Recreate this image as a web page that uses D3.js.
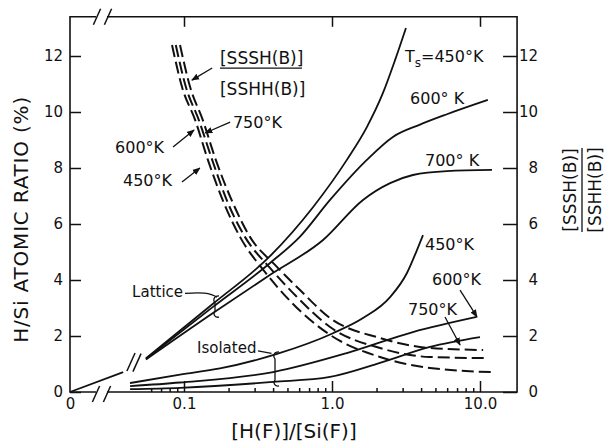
<!DOCTYPE html>
<html>
<head>
<meta charset="utf-8">
<script src="https://cdn.jsdelivr.net/npm/d3@7"></script>
<style>
  body { margin: 0; background: #fff; }
  text { font-family: "DejaVu Sans", sans-serif; fill: #111; }
</style>
</head>
<body>
<div id="chart"></div>
<script>
// ---- data (x = [H(F)]/[Si(F)], y = H/Si %, or the SSSH/SSHH ratio on the right) ----
var xTicks = [0.1, 1, 10];
var xTickLabels = ["0.1", "1.0", "10.0"];
var xMinor = [0.06, 0.07, 0.08, 0.09, 0.2, 0.3, 0.4, 0.5, 0.6, 0.7, 0.8, 0.9, 2, 3, 4, 5, 6, 7, 8, 9];
var yTicks = [0, 2, 4, 6, 8, 10, 12];

// low-ratio linear piece from the origin
var originLine = [[0, 0], [0.035, 0.71]];

// lattice H/Si
var lattice450 = [[0.0553, 1.2], [0.157, 3.15], [0.381, 4.85], [0.744, 6.6], [1.26, 8.29], [1.72, 9.46], [2.21, 10.68], [2.67, 11.86], [3.16, 13.0]];
var lattice600 = [[0.0553, 1.18], [0.157, 3.04], [0.38, 4.6], [0.608, 5.55], [0.97, 6.86], [1.72, 8.29], [2.58, 9.11], [3.93, 9.55], [5.98, 9.92], [11.3, 10.43]];
var lattice700 = [[0.0553, 1.16], [0.157, 2.82], [0.38, 4.18], [0.87, 5.43], [1.62, 6.86], [2.47, 7.46], [3.52, 7.75], [5.98, 7.89], [12.05, 7.93]];

// isolated H/Si
var isolated450 = [[0.0432, 0.32], [0.094, 0.62], [0.175, 0.84], [0.425, 1.36], [1.016, 2.1], [1.62, 2.64], [2.47, 3.39], [3.21, 4.25], [3.75, 5.07], [4.12, 5.6]];
var isolated600 = [[0.0432, 0.21], [0.094, 0.34], [0.4, 0.71], [1.26, 1.39], [3.52, 2.14], [9.5, 2.68]];
var isolated750 = [[0.0432, 0.1], [0.094, 0.15], [0.4, 0.36], [0.97, 0.54], [2.11, 1.04], [4.59, 1.61], [10, 1.96]];

// [SSSH(B)]/[SSHH(B)] ratio (right axis), dashed
var ratioA = [[0.094, 12.39], [0.11, 10.89], [0.134, 9.71], [0.164, 8.29], [0.214, 6.75], [0.279, 5.54], [0.412, 4.54], [0.608, 3.64], [0.97, 2.64], [2.11, 1.93], [4.59, 1.57], [10.5, 1.5]];
var ratioB = [[0.088, 12.39], [0.103, 10.89], [0.126, 9.71], [0.155, 8.29], [0.198, 6.75], [0.258, 5.54], [0.381, 4.43], [0.571, 3.43], [0.97, 2.32], [2.11, 1.57], [4.59, 1.25], [11.1, 1.21]];
var ratioC = [[0.083, 12.39], [0.097, 10.89], [0.119, 9.71], [0.145, 8.29], [0.186, 6.75], [0.239, 5.54], [0.352, 4.29], [0.537, 3.18], [0.97, 2.04], [2.11, 1.25], [4.59, 0.86], [12.2, 0.71]];

// annotations, in data units
var curveLabels = [
  {text: "600° K", x: 3.37, y: 10.29},
  {text: "700° K", x: 4.25, y: 8.07},
  {text: "450°K", x: 4.25, y: 5.07},
  {text: "600°K", x: 4.74, y: 3.82},
  {text: "750°K", x: 3.26, y: 2.75},
  {text: "600°K", x: 0.0342, y: 8.54},
  {text: "750°K", x: 0.214, y: 9.43},
  {text: "450°K", x: 0.0387, y: 7.36}
];
var arrows = [
  [[7.33, 3.64], [9.55, 2.68]],
  [[5.8, 2.68], [7.33, 1.68]],
  [[0.0843, 8.75], [0.117, 9.36]],
  [[0.205, 9.64], [0.139, 9.25]],
  [[0.0969, 7.5], [0.128, 8.0]],
  [[0.155, 11.57], [0.113, 11.14]]
];

var svgWidth = 612, svgHeight = 446;
var svg = d3.select("#chart").append("svg")
    .attr("width", svgWidth)
    .attr("height", svgHeight)
    .style("background", "#fff");

// scales
var xLog = d3.scaleLog().domain([0.1, 10]).range([184, 480]);
var xLin = d3.scaleLinear().domain([0, 0.05]).range([70, 146]);
var y = d3.scaleLinear().domain([0, 12]).range([392, 56]);
var xMax = 17.8, yMax = 13.4;
var leftPx = xLin(0), rightPx = xLog(xMax), topPx = y(yMax), bottomPx = y(0);

var ink = "#111";

// ---- frame with axis breaks ----
var gapL = 96, gapR = 107;
var frame = svg.append("g").attr("stroke", ink).attr("stroke-width", 1.6).attr("fill", "none");
frame.append("path").attr("d", `M${gapL},${topPx}H${leftPx}V${bottomPx}H${gapL}`);
frame.append("path").attr("d", `M${gapR},${topPx}H${rightPx}V${bottomPx}H${gapR}`);
function slash(g, cx, cy, h) {
  g.append("line").attr("x1", cx - h * 0.45).attr("y1", cy + h)
    .attr("x2", cx + h * 0.45).attr("y2", cy - h)
    .attr("stroke", ink).attr("stroke-width", 1.5);
}
[gapL, gapR].forEach(function(cx) {
  slash(svg, cx, bottomPx + 2, 8);
  slash(svg, cx + 1, topPx, 8);
});

// ---- axes ----
var leftAxis = d3.axisLeft(y).tickValues(yTicks).tickSizeInner(-11).tickSizeOuter(0).tickPadding(7);
var gl = svg.append("g").attr("transform", `translate(${leftPx},0)`).call(leftAxis);
var rightAxis = d3.axisRight(y).tickValues(yTicks).tickSizeInner(-14).tickSizeOuter(0).tickPadding(21);
var gr = svg.append("g").attr("transform", `translate(${rightPx},0)`).call(rightAxis);
gr.selectAll("text").attr("text-anchor", "end");

var bottomAxis = d3.axisBottom(xLog).tickValues(xTicks).tickSizeInner(-11).tickSizeOuter(0).tickPadding(6)
    .tickFormat(function(d, i) { return xTickLabels[i]; });
var gb = svg.append("g").attr("transform", `translate(0,${bottomPx})`).call(bottomAxis);
var minorAxis = d3.axisBottom(xLog).tickValues(xMinor).tickSizeInner(-4).tickSizeOuter(0).tickFormat("");
var gm = svg.append("g").attr("transform", `translate(0,${bottomPx})`).call(minorAxis);
var topAxis = d3.axisTop(xLog).tickValues(xTicks).tickSizeInner(-10).tickSizeOuter(0).tickFormat("");
var gt = svg.append("g").attr("transform", `translate(0,${topPx})`).call(topAxis);
var zeroAxis = d3.axisBottom(xLin).tickValues([0]).tickSize(0).tickPadding(6).tickFormat(d3.format("d"));
var gz = svg.append("g").attr("transform", `translate(0,${bottomPx})`).call(zeroAxis);

[gl, gr, gb, gm, gt, gz].forEach(function(g) {
  g.select(".domain").remove();
  g.selectAll("line").attr("stroke", ink).attr("stroke-width", 1.5);
  g.selectAll("text").attr("font-size", 15).attr("fill", ink)
    .style("font-family", "'DejaVu Sans', sans-serif");
});

// ---- curves ----
var lineLog = d3.line().x(d => xLog(d[0])).y(d => y(d[1])).curve(d3.curveMonotoneX);
var lineLin = d3.line().x(d => xLin(d[0])).y(d => y(d[1]));

var plot = svg.append("g").attr("fill", "none").attr("stroke", ink);
plot.append("path").attr("d", lineLin(originLine)).attr("stroke-width", 1.8);
slash(svg, 131, y(1.07), 9);
slash(svg, 137, y(1.05), 9);

[lattice450, lattice600, lattice700, isolated450, isolated600, isolated750].forEach(function(s) {
  plot.append("path").attr("d", lineLog(s)).attr("stroke-width", 1.8);
});
[ratioA, ratioB, ratioC].forEach(function(s) {
  plot.append("path").attr("d", lineLog(s)).attr("stroke-width", 2)
    .attr("stroke-dasharray", "12,5");
});

// ---- annotations ----
svg.append("defs").append("marker")
    .attr("id", "head").attr("viewBox", "0 0 10 10")
    .attr("refX", 9).attr("refY", 5)
    .attr("markerWidth", 8).attr("markerHeight", 8)
    .attr("markerUnits", "userSpaceOnUse")
    .attr("orient", "auto")
  .append("path").attr("d", "M0,1L10,5L0,9Z").attr("fill", ink);

arrows.forEach(function(a) {
  svg.append("line")
    .attr("x1", xLog(a[0][0])).attr("y1", y(a[0][1]))
    .attr("x2", xLog(a[1][0])).attr("y2", y(a[1][1]))
    .attr("stroke", ink).attr("stroke-width", 1.3)
    .attr("marker-end", "url(#head)");
});

curveLabels.forEach(function(l) {
  svg.append("text").attr("x", xLog(l.x)).attr("y", y(l.y))
    .attr("font-size", 16).text(l.text);
});

// T_s = 450°K
var ts = svg.append("text").attr("x", xLog(3.11)).attr("y", y(11.79)).attr("font-size", 16);
ts.append("tspan").text("T");
ts.append("tspan").attr("font-size", 12).attr("dy", 5).text("s");
ts.append("tspan").attr("dy", -5).text("=450°K");

// in-plot fraction label
svg.append("text").attr("x", xLog(0.175)).attr("y", y(11.71)).attr("font-size", 17).text("[SSSH(B)]");
svg.append("line").attr("x1", xLog(0.175)).attr("x2", xLog(0.627))
    .attr("y1", y(11.57)).attr("y2", y(11.57)).attr("stroke", ink).attr("stroke-width", 1.3);
svg.append("text").attr("x", xLog(0.175)).attr("y", y(10.61)).attr("font-size", 17).text("[SSHH(B)]");

// Lattice / Isolated brackets
function bracket(x, y1, y2) {
  var px = xLog(x), a = y(y1), b = y(y2);
  return `M${px + 4},${a}C${px - 2},${a} ${px - 2},${a + 5} ${px},${a + 7}L${px},${b - 7}` +
    `C${px - 2},${b - 5} ${px - 1},${b} ${px + 4},${b - 1}`;
}
svg.append("text").attr("x", xLog(0.0446)).attr("y", y(3.39)).attr("font-size", 15).text("Lattice");
svg.append("path")
    .attr("d", `M${xLog(0.1016)},${y(3.52)}C${xLog(0.13)},${y(3.56)} ${xLog(0.15)},${y(3.55)} ${xLog(0.162) + 2},${y(3.38)}`)
    .attr("fill", "none").attr("stroke", ink).attr("stroke-width", 1.2);
svg.append("path").attr("d", bracket(0.162, 3.43, 2.64))
    .attr("fill", "none").attr("stroke", ink).attr("stroke-width", 1.3);

svg.append("text").attr("x", xLog(0.1225)).attr("y", y(1.39)).attr("font-size", 15).text("Isolated");
svg.append("path")
    .attr("d", `M${xLog(0.316)},${y(1.47)}L${xLog(0.39)},${y(1.38)}`)
    .attr("fill", "none").attr("stroke", ink).attr("stroke-width", 1.2);
svg.append("path").attr("d", bracket(0.412, 1.43, 0.18))
    .attr("fill", "none").attr("stroke", ink).attr("stroke-width", 1.3);

// ---- axis titles ----
svg.append("text")
    .attr("transform", `translate(28,${(topPx + bottomPx) / 2 + 15}) rotate(-90)`)
    .attr("text-anchor", "middle").attr("font-size", 20).attr("letter-spacing", 0.8)
    .text("H/Si ATOMIC RATIO (%)");
svg.append("text")
    .attr("x", 294).attr("y", 438).attr("text-anchor", "middle").attr("font-size", 20)
    .text("[H(F)]/[Si(F)]");

var rt = svg.append("g").attr("transform", "translate(582,190) rotate(-90)");
rt.append("text").attr("y", -6).attr("text-anchor", "middle").attr("font-size", 17).text("[SSSH(B)]");
rt.append("line").attr("x1", -42).attr("x2", 42).attr("stroke", ink).attr("stroke-width", 1.3);
rt.append("text").attr("y", 19).attr("text-anchor", "middle").attr("font-size", 17).text("[SSHH(B)]");
</script>
</body>
</html>
